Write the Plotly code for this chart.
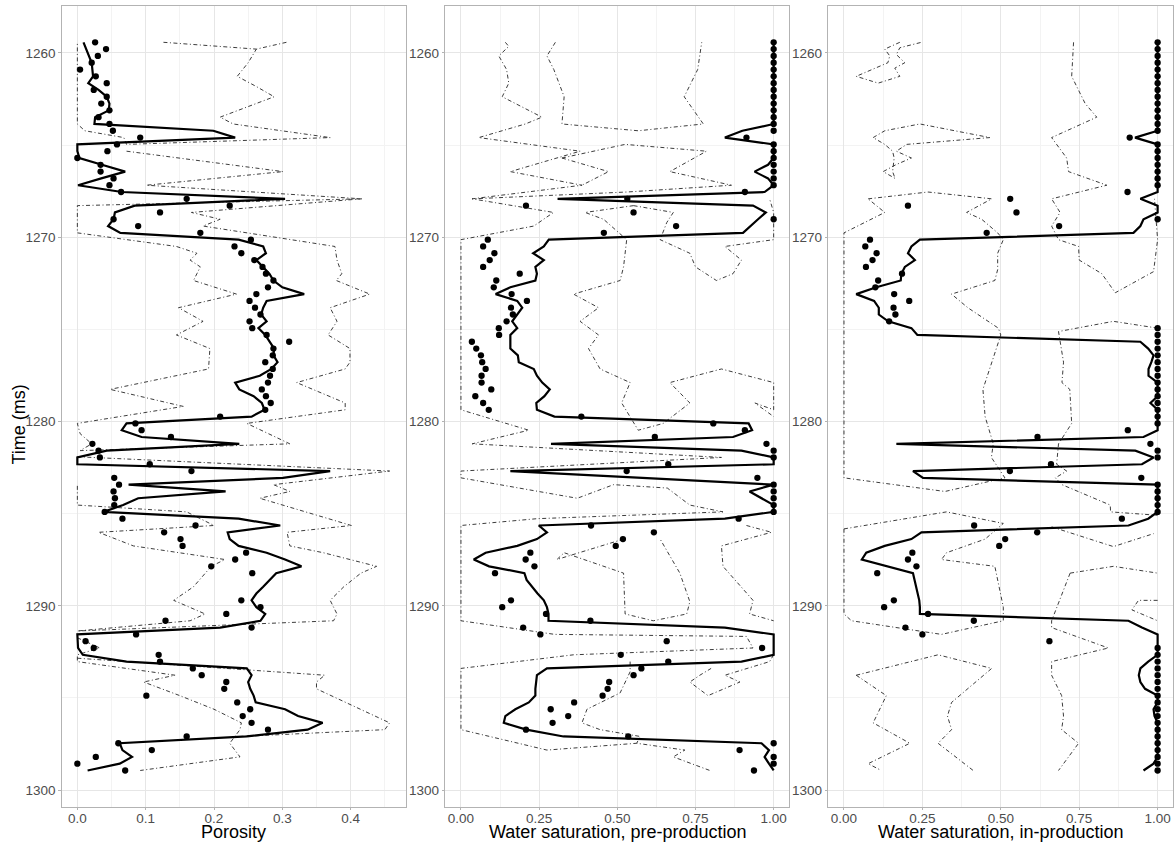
import plotly.graph_objects as go

# ---------------- data ----------------
T0 = 1259.42          # time of first sample (ms)
DT = 0.3693           # sample interval (ms)

por_obs = [0.026, 0.042, 0.030, 0.021, 0.004, 0.027, 0.043, 0.024, 0.043, 0.035,
           0.047, 0.031, 0.047, 0.052, 0.092, 0.058, 0.044, 0.000, 0.034, 0.034,
           0.053, 0.047, 0.064, 0.160, 0.223, 0.121, 0.053, 0.089, 0.180, 0.254,
           0.230, 0.240, 0.259, 0.271, 0.276, 0.287, 0.279, 0.262, 0.252, 0.260,
           0.268, 0.252, 0.256, 0.277, 0.310, 0.287, 0.286, 0.275, 0.286, 0.282,
           0.279, 0.270, 0.276, 0.283, 0.275, 0.209, 0.085, 0.094, 0.137, 0.022,
           0.031, 0.033, 0.106, 0.167, 0.054, 0.061, 0.053, 0.055, 0.054, 0.040,
           0.066, 0.173, 0.127, 0.151, 0.154, 0.247, 0.231, 0.196, 0.256, None,
           None, None, 0.240, 0.268, 0.218, 0.129, 0.255, 0.086, 0.012, 0.024,
           0.119, 0.121, 0.169, 0.182, 0.218, 0.215, 0.101, 0.234, 0.253, 0.242,
           0.255, 0.279, 0.160, 0.060, 0.109, 0.027, 0.000, 0.070]

por_mean = [0.009, 0.013, 0.016, 0.021, 0.022, 0.023, 0.016, 0.031, 0.043, 0.047,
            0.046, 0.026, 0.025, 0.199, 0.231, 0.000, 0.000, 0.003, 0.036, 0.070,
            0.035, 0.001, 0.065, 0.304, 0.084, 0.055, 0.053, 0.045, 0.063, 0.236,
            0.272, 0.276, 0.262, 0.271, 0.281, 0.287, 0.300, 0.332, 0.277, 0.272,
            0.269, 0.277, 0.265, 0.275, 0.282, 0.288, 0.287, 0.293, 0.284, 0.267,
            0.231, 0.237, 0.258, 0.270, 0.274, 0.255, 0.072, 0.065, 0.094, 0.237,
            0.043, 0.000, 0.000, 0.370, 0.301, 0.075, 0.217, 0.089, 0.067, 0.038,
            0.236, 0.297, 0.220, 0.223, 0.236, 0.277, 0.304, 0.328, 0.291, 0.282,
            0.272, 0.262, 0.255, 0.262, 0.275, 0.268, 0.209, 0.000, 0.000, 0.001,
            0.008, 0.072, 0.248, 0.255, 0.250, 0.253, 0.258, 0.261, 0.304, 0.323,
            0.359, 0.337, 0.248, 0.062, 0.066, 0.080, 0.062, 0.015]

sw_pre_obs = [1.0, 1.0, 1.0, 1.0, 1.0, 1.0, 1.0, 1.0, 1.0, 1.0,
              1.0, 1.0, 1.0, 1.0, 0.913, 1.0, 1.0, 1.0, 1.0, 1.0,
              1.0, 1.0, 0.908, 0.532, 0.208, 0.552, 1.0, 0.688, 0.457, 0.086,
              0.071, 0.107, 0.092, 0.071, 0.188, 0.113, 0.105, 0.162, 0.211, 0.160,
              0.166, 0.146, 0.121, 0.122, 0.035, 0.049, 0.064, 0.068, 0.079, 0.066,
              0.066, 0.097, 0.046, 0.071, 0.089, 0.385, 0.807, 0.908, 0.620, 0.977,
              1.0, 1.0, 0.663, 0.530, 0.948, 1.0, 1.0, 1.0, 1.0, 1.0,
              0.888, 0.416, 0.617, 0.518, 0.495, 0.222, 0.207, 0.235, 0.109, None,
              None, None, 0.160, 0.132, 0.272, 0.414, 0.199, 0.254, 0.658, 0.963,
              0.511, 0.663, 0.577, 0.552, 0.474, 0.469, 0.453, 0.362, 0.287, 0.343,
              0.293, 0.208, 0.535, 1.0, 0.891, 1.0, 1.0, 0.937]

sw_pre_mean = [1.0, 1.0, 1.0, 1.0, 1.0, 1.0, 1.0, 1.0, 1.0, 1.0,
               1.0, 1.0, 1.0, 0.900, 0.844, 1.0, 1.0, 1.0, 0.982, 0.939,
               0.982, 1.0, 0.971, 0.309, 0.934, 0.975, 0.950, 0.925, 0.902, 0.281,
               0.265, 0.231, 0.265, 0.238, 0.243, 0.238, 0.158, 0.111, 0.180, 0.196,
               0.180, 0.164, 0.180, 0.158, 0.158, 0.158, 0.182, 0.185, 0.233, 0.243,
               0.260, 0.284, 0.267, 0.241, 0.243, 0.299, 0.920, 0.931, 0.870, 0.288,
               0.897, 1.0, 1.0, 0.158, 0.580, 1.0, 0.923, 0.960, 1.0, 1.0,
               0.844, 0.249, 0.275, 0.243, 0.180, 0.079, 0.041, 0.090, 0.203, 0.210,
               0.227, 0.245, 0.265, 0.275, 0.280, 0.280, 0.844, 1.0, 1.0, 1.0,
               1.0, 0.897, 0.275, 0.243, 0.240, 0.238, 0.238, 0.217, 0.174, 0.142,
               0.137, 0.209, 0.328, 0.961, 0.985, 0.971, 0.985, 1.0]

sw_in_obs = [1.0, 1.0, 1.0, 1.0, 1.0, 1.0, 1.0, 1.0, 1.0, 1.0,
             1.0, 1.0, 1.0, 1.0, 0.911, 1.0, 1.0, 1.0, 1.0, 1.0,
             1.0, 1.0, 0.904, 0.530, 0.204, 0.550, 1.0, 0.686, 0.455, 0.083,
             0.068, 0.104, 0.091, 0.070, 0.185, 0.109, 0.100, 0.160, 0.208, 0.158,
             0.164, 0.144, 1.0, 1.0, 1.0, 1.0, 1.0, 1.0, 1.0, 1.0,
             1.0, 1.0, 1.0, 1.0, 1.0, 1.0, 1.0, 0.905, 0.617, 0.977,
             1.0, 1.0, 0.660, 0.529, 0.948, 1.0, 1.0, 1.0, 1.0, 1.0,
             0.886, 0.415, 0.616, 0.514, 0.495, 0.218, 0.204, 0.231, 0.106, None,
             None, None, 0.159, 0.128, 0.268, 0.414, 0.196, 0.250, 0.655, 1.0,
             1.0, 1.0, 1.0, 1.0, 1.0, 1.0, 1.0, 1.0, 1.0, 1.0,
             1.0, 1.0, 1.0, 1.0, 1.0, 1.0, 1.0, 1.0]

sw_in_mean = [1.0, 1.0, 1.0, 1.0, 1.0, 1.0, 1.0, 1.0, 1.0, 1.0,
              1.0, 1.0, 1.0, 1.0, 0.928, 1.0, 1.0, 1.0, 1.0, 1.0,
              1.0, 1.0, 1.0, 0.945, 1.0, 1.0, 0.955, 0.945, 0.923, 0.242,
              0.215, 0.204, 0.226, 0.194, 0.183, 0.181, 0.103, 0.039, 0.096, 0.111,
              0.111, 0.141, 0.215, 0.234, 0.945, 0.970, 0.987, 0.980, 0.971, 0.971,
              1.0, 1.0, 1.0, 0.977, 1.0, 1.0, 1.0, 1.0, 0.955, 0.167,
              0.929, 0.987, 0.950, 0.220, 0.252, 1.0, 1.0, 1.0, 1.0, 1.0,
              0.970, 0.907, 0.247, 0.215, 0.130, 0.071, 0.057, 0.140, 0.220, 0.225,
              0.230, 0.235, 0.240, 0.242, 0.242, 0.907, 0.950, 1.0, 1.0, 1.0,
              1.0, 0.970, 0.945, 0.940, 0.945, 0.960, 1.0, 1.0, 0.987, 0.990,
              1.0, 1.0, 1.0, 1.0, 1.0, 1.0, 0.987, 0.955]

# dash-dot interval outlines: lists of (sample index, value)
por_band_paths = [
    [(0, 0.306), (1, 0.262), (3, 0.25), (5, 0.234), (6.5, 0.262), (8, 0.288), (11, 0.209), (12, 0.228),
     (14, 0.37), (15, 0.072), (14, 0.068), (13, 0.011), (12, 0.0), (0, 0.0)],
    [(0, 0.126), (1, 0.262)],
    [(16, 0.072), (19, 0.301), (21, 0.101), (23, 0.416), (25, 0.167), (26, 0.209), (27, 0.184), (30, 0.377),
     (32, 0.38), (34, 0.387), (35, 0.379), (37, 0.428), (39, 0.37), (41, 0.38), (43, 0.367), (45, 0.399),
     (47, 0.399), (48, 0.392), (50, 0.321), (53, 0.392), (54, 0.392), (56, 0.248), (59, 0.311), (60, 0.004),
     (59, 0.021), (57.5, 0.004), (56, 0.0), (53.5, 0.155), (51, 0.048), (48, 0.192), (45, 0.194), (43, 0.145),
     (41, 0.184), (39, 0.148), (37, 0.233), (35, 0.17), (34, 0.175), (33, 0.18), (32, 0.165), (31, 0.175),
     (30, 0.145), (28, 0.0), (24, 0.0), (23, 0.416)],
    [(60.9, 0.0), (63, 0.457), (65, 0.287), (66, 0.311), (67, 0.267), (71, 0.401), (72, 0.307), (74, 0.311),
     (75, 0.36), (77, 0.438), (78, 0.415), (80, 0.39), (82, 0.37), (84, 0.38), (85, 0.375), (86.5, 0.0),
     (85, 0.165), (84, 0.187), (82, 0.141), (80, 0.17), (77, 0.196), (76, 0.216), (74, 0.082), (72, 0.031),
     (71, 0.2), (69, 0.16), (68, 0.0), (65, 0.0)],
    [(87.5, 0.0), (89, 0.033), (90, 0.0), (91, 0.0), (93, 0.143), (94, 0.097), (96, 0.15), (98, 0.2),
     (100, 0.24), (101, 0.238), (103, 0.223), (105, 0.238), (107, 0.092)],
    [(90.5, 0.0), (93, 0.362), (94, 0.35), (95, 0.35), (100, 0.457), (101, 0.45), (102, 0.24)],
]

sw_pre_band_paths = [
    [(0, 0.142), (0.6, 0.153), (2, 0.121), (4, 0.146), (6, 0.153), (8, 0.132), (11, 0.259), (12, 0.206),
     (14, 0.057), (16, 0.381), (19, 0.158), (21, 0.387), (23, 0.036), (25, 0.296), (27, 0.233), (29, 0.0),
     (54, 0.0), (57, 0.217), (59, 0.036), (61, 0.833), (63, 0.0), (64, 0.0), (67, 0.372), (65, 0.488),
     (65.5, 0.66), (68, 0.732), (69, 0.838), (70, 0.243), (71, 0.0), (85, 0.0), (87, 0.3), (87.3, 0.913),
     (89, 0.934), (90, 0.36), (92, 0.0), (101, 0.0), (104, 0.275), (103, 0.562), (104, 0.716), (105, 0.679),
     (107, 0.796)],
    [(0, 0.302), (2, 0.275), (4, 0.297), (8, 0.33), (12, 0.323), (13, 0.567), (12, 0.775), (8, 0.714),
     (4, 0.757), (0, 0.77)],
    [(17, 0.323), (15, 0.525), (16, 0.785), (19, 0.668), (21, 0.865), (22, 0.53), (23, 0.036)],
    [(17, 0.323), (19, 0.472), (21, 0.387)],
    [(24, 0.552), (25, 0.397), (26, 0.456), (28, 0.504), (29, 0.53), (33, 0.52), (35, 0.509), (37, 0.36),
     (39, 0.44), (41, 0.381), (43, 0.44), (45, 0.408), (48, 0.445), (50, 0.541), (53, 0.514), (57, 0.567),
     (56, 0.647), (53, 0.732), (50, 0.668), (48, 0.833), (50, 1.0), (54, 1.0), (53, 0.94), (55, 1.0)],
    [(24, 0.552), (25, 0.679), (26.5, 0.658), (29, 0.637), (31, 0.732), (33, 0.75), (35, 0.817), (34, 0.87),
     (32, 0.897), (30, 0.844), (29, 1.0), (25, 1.0), (23, 0.987)],
    [(71, 0.913), (72, 0.993), (74, 0.833), (77, 0.838), (82, 0.934), (84, 0.923), (85, 1.0)],
    [(73, 0.52), (76, 0.307), (75, 0.33), (78, 0.52), (84, 0.525), (85, 0.615), (84, 0.722), (82.2, 0.732),
     (78, 0.70), (73, 0.637)],
    [(91, 0.541), (92.5, 0.541), (95.6, 0.509), (98, 0.403), (100, 0.387), (101, 0.445), (102, 0.573),
     (103, 0.562)],
    [(90, 1.0), (91, 0.987), (93, 0.844), (94, 0.892), (96, 0.79), (94, 0.732), (93, 0.764), (92, 0.8)],
]

sw_in_band_paths = [
    [(0, 0.178), (1, 0.13), (2, 0.146), (3, 0.14), (5, 0.039), (6, 0.109), (5, 0.178), (3.8, 0.162),
     (3, 0.194), (1.8, 0.167), (0.8, 0.178), (0, 0.247)],
    [(14, 0.093), (13, 0.13), (12, 0.242), (14, 0.465), (15, 0.2), (16, 0.167), (17, 0.215), (18, 0.165),
     (19, 0.125), (20, 0.163), (19, 0.155), (17, 0.16), (16, 0.155), (15, 0.13), (14, 0.093)],
    [(0, 0.732), (2, 0.73), (5, 0.726), (9, 0.769), (11, 0.806), (14, 0.662), (17, 0.71), (19, 0.716),
     (21, 0.838), (23, 0.662), (25, 0.689), (27, 0.662), (29, 0.684), (30, 0.748), (32, 0.75), (34, 0.822),
     (36.8, 0.865), (33.7, 0.987), (29, 1.0), (23, 0.99)],
    [(23, 0.077), (22, 0.268), (23, 0.471), (25, 0.391), (26, 0.439), (28, 0.49), (29, 0.508), (31, 0.49),
     (33.4, 0.49), (35, 0.481), (37, 0.343), (39, 0.395), (42, 0.492), (43, 0.5), (51, 0.443), (55, 0.45),
     (59, 0.476), (61, 0.47), (64, 0.513), (66, 0.322), (64, 0.0), (28, 0.0), (25, 0.13), (23, 0.077)],
    [(42, 1.0), (41, 0.859), (42.5, 0.684), (47, 0.70), (50, 0.695), (51, 0.72), (56, 0.726), (59, 0.684),
     (62, 0.678), (63, 0.71), (64, 0.674), (65, 0.695), (68, 0.849), (69, 0.85), (69.5, 1.0)],
    [(71.5, 0.0), (69, 0.327), (70.7, 0.508), (73, 0.45), (75, 0.327), (76, 0.311), (77, 0.481), (83, 0.508),
     (85, 0.508), (87, 0.311), (85, 0.024), (84, 0.0), (71.5, 0.0)],
    [(71.2, 0.662), (74.1, 0.859), (72.2, 0.987)],
    [(78, 0.721), (77, 0.859), (78, 1.0)],
    [(82, 1.0), (82, 0.939), (83.4, 0.918), (85, 1.0)],
    [(78, 0.721), (85, 0.662), (86, 0.662), (89, 0.843), (91, 0.662), (93, 0.662), (96, 0.694), (99, 0.70),
     (101, 0.694), (103, 0.748), (107, 0.684)],
    [(93, 0.039), (90, 0.30), (92, 0.471), (97, 0.343), (99, 0.33), (101, 0.343), (103, 0.30), (107, 0.412)],
    [(93, 0.039), (96, 0.135), (100, 0.093), (103, 0.21), (106, 0.077), (107, 0.119)],
]

x_titles = ["Porosity", "Water saturation, pre-production", "Water saturation, in-production"]
y_title = "Time (ms)"
time_ticks = [1260, 1270, 1280, 1290, 1300]

# ---------------- figure ----------------
W, H = 1174, 844
FONT = "Liberation Sans, Arial, sans-serif"
BAND = dict(color="#262626", width=0.9, dash="4px,2.5px,1px,2.5px")


def t_of(k):
    return T0 + DT * k


times = [t_of(k) for k in range(len(por_obs))]

panels = [
    dict(obs=por_obs, mean=por_mean, paths=por_band_paths, xa="x", ya="y"),
    dict(obs=sw_pre_obs, mean=sw_pre_mean, paths=sw_pre_band_paths, xa="x2", ya="y2"),
    dict(obs=sw_in_obs, mean=sw_in_mean, paths=sw_in_band_paths, xa="x3", ya="y3"),
]

fig = go.Figure()
for p in panels:
    for path in p["paths"]:
        fig.add_trace(go.Scatter(x=[v for k, v in path], y=[t_of(k) for k, v in path],
                                 mode="lines", line=BAND, xaxis=p["xa"], yaxis=p["ya"],
                                 hoverinfo="skip", showlegend=False))
    fig.add_trace(go.Scatter(x=p["mean"], y=times, mode="lines",
                             line=dict(color="black", width=2.2), xaxis=p["xa"], yaxis=p["ya"],
                             showlegend=False))
    fig.add_trace(go.Scatter(x=p["obs"], y=times, mode="markers",
                             marker=dict(color="black", size=6.3), xaxis=p["xa"], yaxis=p["ya"],
                             showlegend=False))

GRID = "#E6E6E6"
MINOR = "#F3F3F3"
common = dict(showgrid=True, gridcolor=GRID, gridwidth=1, zeroline=False, showline=True, mirror=True,
              linecolor="#B3B3B3", linewidth=1, ticks="outside", ticklen=2.5, tickwidth=1,
              tickcolor="#B3B3B3", tickfont=dict(family=FONT, size=13.5, color="#4D4D4D"),
              automargin=False)

y_dom = [1 - 806.7 / H, 1 - 6 / H]
x_doms = [[61.7 / W, 406.0 / W], [445.3 / W, 789.3 / W], [828.3 / W, 1173.3 / W]]
x_ranges = [[-0.0229, 0.481], [-0.05, 1.05], [-0.05, 1.05]]
x_tickvals = [[0, 0.1, 0.2, 0.3, 0.4], [0, 0.25, 0.5, 0.75, 1.0], [0, 0.25, 0.5, 0.75, 1.0]]
x_ticktext = [["0.0", "0.1", "0.2", "0.3", "0.4"], ["0.00", "0.25", "0.50", "0.75", "1.00"],
              ["0.00", "0.25", "0.50", "0.75", "1.00"]]
x_minor = [[0.05, 0.15, 0.25, 0.35, 0.45], [0.125, 0.375, 0.625, 0.875], [0.125, 0.375, 0.625, 0.875]]

layout = dict(width=W, height=H, margin=dict(l=0, r=0, t=0, b=0), plot_bgcolor="white",
              paper_bgcolor="white", font=dict(family=FONT), showlegend=False)
for i in range(3):
    sx = "" if i == 0 else str(i + 1)
    layout["xaxis" + sx] = dict(common, domain=x_doms[i], range=x_ranges[i], tickvals=x_tickvals[i],
                                ticktext=x_ticktext[i], anchor="y" + sx, ticklabelstandoff=-3,
                                minor=dict(tickvals=x_minor[i], showgrid=True, gridcolor=MINOR,
                                           gridwidth=1, ticks=""))
    layout["yaxis" + sx] = dict(common, domain=y_dom, range=[1300.9, 1257.45], tickvals=time_ticks,
                                ticktext=[str(v) for v in time_ticks], anchor="x" + sx,
                                minor=dict(tickvals=[1265, 1275, 1285, 1295], showgrid=True,
                                           gridcolor=MINOR, gridwidth=1, ticks=""))
fig.update_layout(**layout)

# axis titles placed as annotations (x titles centred under each panel)
for i in range(3):
    fig.add_annotation(text=x_titles[i], x=sum(x_doms[i]) / 2, y=1 - 832 / H, xref="paper", yref="paper",
                       showarrow=False, xanchor="center", yanchor="middle", borderpad=0,
                       font=dict(family=FONT, size=18, color="black"))
fig.add_annotation(text=y_title, x=18.5 / W, y=1 - 424 / H, xref="paper", yref="paper", showarrow=False,
                   textangle=-90, font=dict(family=FONT, size=18, color="black"),
                   xanchor="center", yanchor="middle", borderpad=0)

fig.write_html("out.html", config={"displayModeBar": False},
               post_script="document.body.style.margin='0px';")
